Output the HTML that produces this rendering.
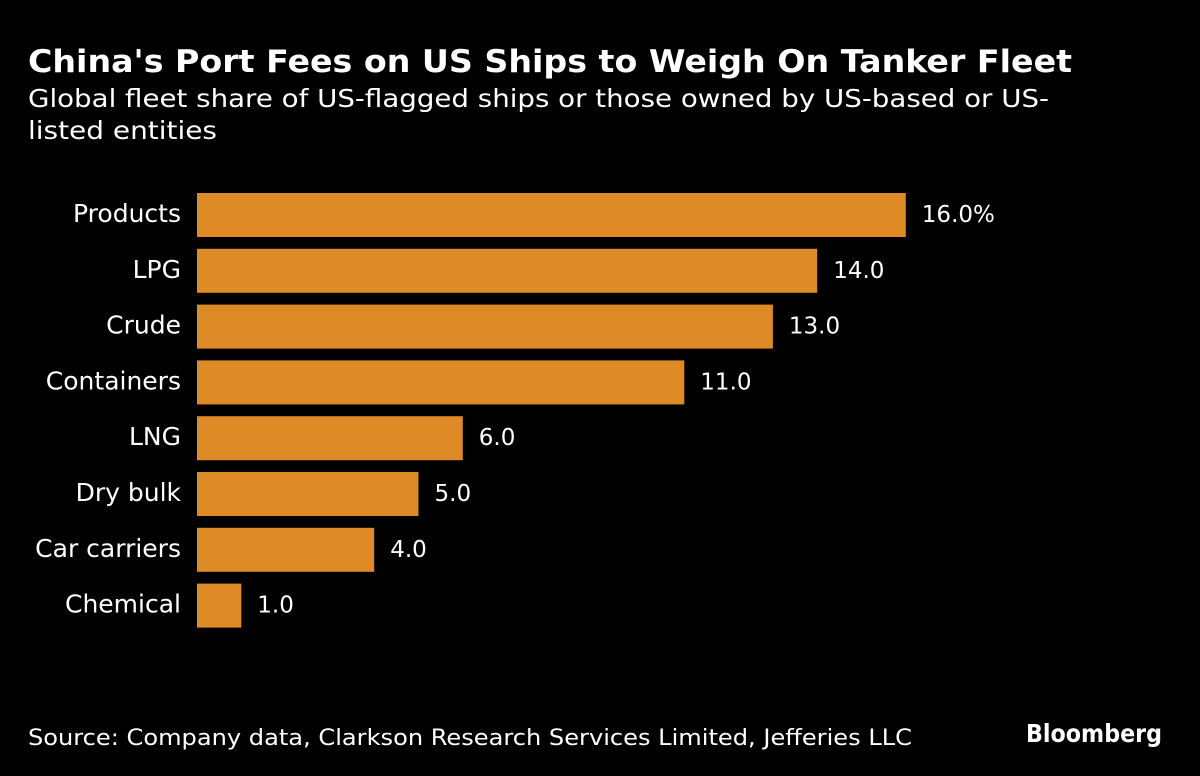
<!DOCTYPE html>
<html><head><meta charset="utf-8"><style>
html,body{margin:0;padding:0;background:#000;width:1200px;height:776px;overflow:hidden}
text{font-family:"DejaVu Sans","Liberation Sans",sans-serif;fill:#fff}
</style></head><body>
<svg id="chart" width="1200" height="776" xmlns="http://www.w3.org/2000/svg">
<rect width="1200" height="776" fill="#000"/>
<text x="28" y="72" font-size="31" font-weight="bold" textLength="1044" lengthAdjust="spacingAndGlyphs">China's Port Fees on US Ships to Weigh On Tanker Fleet</text>
<text x="28" y="107" font-size="25" textLength="1021" lengthAdjust="spacingAndGlyphs">Global fleet share of US-flagged ships or those owned by US-based or US-</text>
<text x="28" y="139" font-size="25" textLength="189" lengthAdjust="spacingAndGlyphs">listed entities</text>
<g id="bars"></g>
<text x="28" y="745" font-size="22" fill="#ddd" textLength="884" lengthAdjust="spacingAndGlyphs">Source: Company data, Clarkson Research Services Limited, Jefferies LLC</text>
<text x="1026" y="742" font-size="25" font-weight="bold" font-family="Liberation Sans" textLength="136" lengthAdjust="spacingAndGlyphs">Bloomberg</text>
</svg>
<script>
const categories = ["Products","LPG","Crude","Containers","LNG","Dry bulk","Car carriers","Chemical"];
const values = [16,14,13,11,6,5,4,1];
const valueLabels = ["16.0%","14.0","13.0","11.0","6.0","5.0","4.0","1.0"];
const x0 = 197, pxPerUnit = 44.3;
const xScale = v => x0 + v * pxPerUnit;
const yTop = i => 193 + i * 55.8;
const barH = 44;
const g = document.getElementById('bars');
const NS = "http://www.w3.org/2000/svg";
categories.forEach((c, i) => {
  const y = yTop(i);
  const r = document.createElementNS(NS, 'rect');
  
  
  r.setAttribute('x', x0); r.setAttribute('y', y);
  r.setAttribute('width', xScale(values[i]) - x0); r.setAttribute('height', barH);
  r.setAttribute('fill', '#de8a27');
  g.appendChild(r);
  const l = document.createElementNS(NS, 'text');
  
  
  l.setAttribute('x', 181); l.setAttribute('y', y + barH / 2 + 7);
  l.setAttribute('text-anchor', 'end'); l.setAttribute('font-size', '25');
  l.setAttribute('fill', '#ddd');
  l.textContent = c; g.appendChild(l);
  const v = document.createElementNS(NS, 'text');
  
  
  v.setAttribute('x', xScale(values[i]) + 16); v.setAttribute('y', y + barH / 2 + 7);
  v.setAttribute('font-size', '23');
  v.textContent = valueLabels[i]; g.appendChild(v);
});
</script>
</body></html>
